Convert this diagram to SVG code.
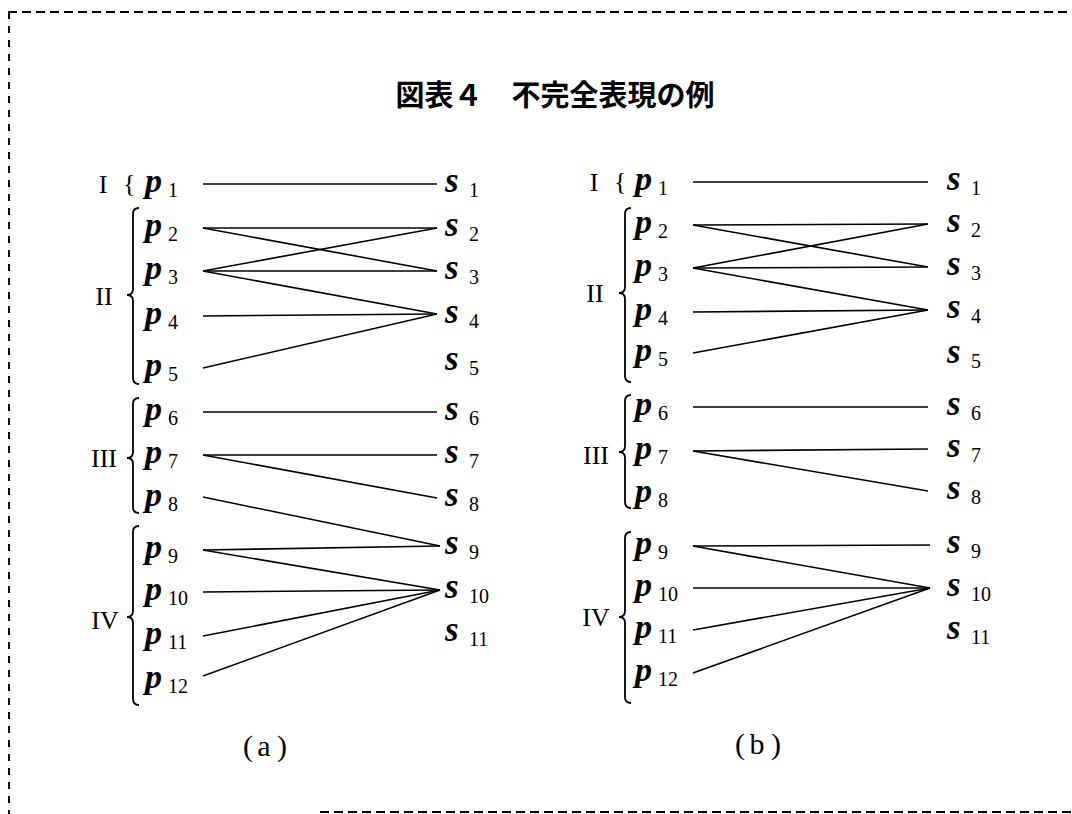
<svg xmlns="http://www.w3.org/2000/svg" width="1072" height="814" viewBox="0 0 1072 814">
<style>
.bd{fill:none;stroke:#000;stroke-width:2}
.ln{stroke:#000;stroke-width:1.6;fill:none}
.br{stroke:#000;stroke-width:1.8;fill:none}
.p{font-family:"Liberation Serif",serif;font-style:italic;font-weight:bold;font-size:34px}
.s{font-family:"Liberation Serif",serif;font-style:italic;font-weight:bold;font-size:35px}
.sub{font-family:"Liberation Serif",serif;font-size:20px}
.rn{font-family:"Liberation Serif",serif;font-size:26px;text-anchor:middle}
.cb{font-family:"Liberation Serif",serif;font-size:26px}
.title{font-family:"Noto Sans CJK JP",sans-serif;font-size:29px;font-weight:bold;text-anchor:middle}
.cap{font-family:"Liberation Serif",serif;font-size:30px;text-anchor:middle}
</style>
<rect width="1072" height="814" fill="#fff"/>
<g id="border">
<line class="bd" x1="8" y1="12" x2="1072" y2="12" stroke-dasharray="9 5"/>
<line class="bd" x1="9" y1="12" x2="9" y2="814" stroke-dasharray="7 7"/>
<line class="bd" x1="320" y1="812" x2="1072" y2="812" stroke-dasharray="9 5"/>
</g>
<text id="title" class="title" x="555" y="106">図表４　不完全表現の例</text>

<g id="connectors-a">
<line class="ln" x1="203" y1="184" x2="437" y2="184"/>
<line class="ln" x1="203" y1="228" x2="437" y2="228"/>
<line class="ln" x1="203" y1="228" x2="437" y2="271"/>
<line class="ln" x1="203" y1="271" x2="437" y2="228"/>
<line class="ln" x1="203" y1="271" x2="437" y2="271"/>
<line class="ln" x1="203" y1="271" x2="437" y2="314"/>
<line class="ln" x1="203" y1="316" x2="437" y2="314"/>
<line class="ln" x1="203" y1="368" x2="437" y2="314"/>
<line class="ln" x1="203" y1="412" x2="437" y2="412"/>
<line class="ln" x1="203" y1="455" x2="437" y2="455"/>
<line class="ln" x1="203" y1="455" x2="437" y2="498"/>
<line class="ln" x1="203" y1="497" x2="440" y2="546"/>
<line class="ln" x1="203" y1="550" x2="440" y2="546"/>
<line class="ln" x1="203" y1="550" x2="440" y2="590"/>
<line class="ln" x1="203" y1="592" x2="440" y2="590"/>
<line class="ln" x1="203" y1="636" x2="440" y2="590"/>
<line class="ln" x1="203" y1="676" x2="440" y2="590"/>
</g>
<g id="connectors-b">
<line class="ln" x1="693" y1="182" x2="928" y2="182"/>
<line class="ln" x1="693" y1="225" x2="928" y2="224"/>
<line class="ln" x1="693" y1="225" x2="928" y2="267"/>
<line class="ln" x1="693" y1="268" x2="928" y2="224"/>
<line class="ln" x1="693" y1="268" x2="928" y2="267"/>
<line class="ln" x1="693" y1="268" x2="928" y2="310"/>
<line class="ln" x1="693" y1="312" x2="928" y2="310"/>
<line class="ln" x1="693" y1="353" x2="928" y2="310"/>
<line class="ln" x1="693" y1="407" x2="928" y2="407"/>
<line class="ln" x1="693" y1="451" x2="928" y2="449"/>
<line class="ln" x1="693" y1="451" x2="928" y2="491"/>
<line class="ln" x1="693" y1="546" x2="930" y2="545"/>
<line class="ln" x1="693" y1="546" x2="930" y2="588"/>
<line class="ln" x1="693" y1="588" x2="930" y2="588"/>
<line class="ln" x1="693" y1="630" x2="930" y2="588"/>
<line class="ln" x1="693" y1="673" x2="930" y2="588"/>
</g>

<!-- Panel (a) groups -->
<g id="a-group-I"><text class="rn" x="103" y="193">I</text><text class="cb" x="123" y="192">{</text></g>
<g id="a-group-II"><text class="rn" x="104" y="305">II</text><path class="br" d="M139,208 Q133,208 133,214 L133,289 Q133,295 127,295 Q133,295 133,301 L133,378 Q133,384 139,384"/></g>
<g id="a-group-III"><text class="rn" x="104" y="467">III</text><path class="br" d="M139,398 Q133,398 133,404 L133,452 Q133,458 127,458 Q133,458 133,464 L133,507 Q133,513 139,513"/></g>
<g id="a-group-IV"><text class="rn" x="105" y="629">IV</text><path class="br" d="M139,526 Q133,526 133,532 L133,611 Q133,617 127,617 Q133,617 133,623 L133,699 Q133,705 139,705"/></g>

<g id="a-p1"><text class="p" x="145" y="192">p</text><text class="sub" x="168" y="197">1</text></g>
<g id="a-p2"><text class="p" x="145" y="236">p</text><text class="sub" x="168" y="241">2</text></g>
<g id="a-p3"><text class="p" x="145" y="279">p</text><text class="sub" x="168" y="284">3</text></g>
<g id="a-p4"><text class="p" x="145" y="324">p</text><text class="sub" x="168" y="329">4</text></g>
<g id="a-p5"><text class="p" x="145" y="376">p</text><text class="sub" x="168" y="381">5</text></g>
<g id="a-p6"><text class="p" x="145" y="420">p</text><text class="sub" x="168" y="425">6</text></g>
<g id="a-p7"><text class="p" x="145" y="463">p</text><text class="sub" x="168" y="468">7</text></g>
<g id="a-p8"><text class="p" x="145" y="506">p</text><text class="sub" x="168" y="511">8</text></g>
<g id="a-p9"><text class="p" x="145" y="558">p</text><text class="sub" x="168" y="563">9</text></g>
<g id="a-p10"><text class="p" x="145" y="600">p</text><text class="sub" x="168" y="605">10</text></g>
<g id="a-p11"><text class="p" x="145" y="644">p</text><text class="sub" x="168" y="649">11</text></g>
<g id="a-p12"><text class="p" x="145" y="688">p</text><text class="sub" x="168" y="693">12</text></g>

<g id="a-s1"><text class="s" x="445" y="192">s</text><text class="sub" x="469" y="197">1</text></g>
<g id="a-s2"><text class="s" x="445" y="236">s</text><text class="sub" x="469" y="241">2</text></g>
<g id="a-s3"><text class="s" x="445" y="279">s</text><text class="sub" x="469" y="284">3</text></g>
<g id="a-s4"><text class="s" x="445" y="323">s</text><text class="sub" x="469" y="328">4</text></g>
<g id="a-s5"><text class="s" x="445" y="370">s</text><text class="sub" x="469" y="375">5</text></g>
<g id="a-s6"><text class="s" x="445" y="420">s</text><text class="sub" x="469" y="425">6</text></g>
<g id="a-s7"><text class="s" x="445" y="463">s</text><text class="sub" x="469" y="468">7</text></g>
<g id="a-s8"><text class="s" x="445" y="506">s</text><text class="sub" x="469" y="511">8</text></g>
<g id="a-s9"><text class="s" x="445" y="554">s</text><text class="sub" x="469" y="559">9</text></g>
<g id="a-s10"><text class="s" x="445" y="598">s</text><text class="sub" x="469" y="603">10</text></g>
<g id="a-s11"><text class="s" x="445" y="641">s</text><text class="sub" x="469" y="646">11</text></g>

<!-- Panel (b) groups -->
<g id="b-group-I"><text class="rn" x="594" y="191">I</text><text class="cb" x="614" y="190">{</text></g>
<g id="b-group-II"><text class="rn" x="595" y="302">II</text><path class="br" d="M631,208 Q625,208 625,214 L625,287 Q625,293 619,293 Q625,293 625,299 L625,376 Q625,382 631,382"/></g>
<g id="b-group-III"><text class="rn" x="596" y="464">III</text><path class="br" d="M631,395 Q625,395 625,401 L625,446 Q625,452 619,452 Q625,452 625,458 L625,502 Q625,508 631,508"/></g>
<g id="b-group-IV"><text class="rn" x="596" y="626">IV</text><path class="br" d="M631,532 Q625,532 625,538 L625,611 Q625,617 619,617 Q625,617 625,623 L625,697 Q625,703 631,703"/></g>

<g id="b-p1"><text class="p" x="635" y="190">p</text><text class="sub" x="658" y="195">1</text></g>
<g id="b-p2"><text class="p" x="635" y="233">p</text><text class="sub" x="658" y="238">2</text></g>
<g id="b-p3"><text class="p" x="635" y="276">p</text><text class="sub" x="658" y="281">3</text></g>
<g id="b-p4"><text class="p" x="635" y="320">p</text><text class="sub" x="658" y="325">4</text></g>
<g id="b-p5"><text class="p" x="635" y="361">p</text><text class="sub" x="658" y="366">5</text></g>
<g id="b-p6"><text class="p" x="635" y="415">p</text><text class="sub" x="658" y="420">6</text></g>
<g id="b-p7"><text class="p" x="635" y="459">p</text><text class="sub" x="658" y="464">7</text></g>
<g id="b-p8"><text class="p" x="635" y="502">p</text><text class="sub" x="658" y="507">8</text></g>
<g id="b-p9"><text class="p" x="635" y="554">p</text><text class="sub" x="658" y="559">9</text></g>
<g id="b-p10"><text class="p" x="635" y="596">p</text><text class="sub" x="658" y="601">10</text></g>
<g id="b-p11"><text class="p" x="635" y="638">p</text><text class="sub" x="658" y="643">11</text></g>
<g id="b-p12"><text class="p" x="635" y="681">p</text><text class="sub" x="658" y="686">12</text></g>

<g id="b-s1"><text class="s" x="947" y="190">s</text><text class="sub" x="971" y="195">1</text></g>
<g id="b-s2"><text class="s" x="947" y="232">s</text><text class="sub" x="971" y="237">2</text></g>
<g id="b-s3"><text class="s" x="947" y="275">s</text><text class="sub" x="971" y="280">3</text></g>
<g id="b-s4"><text class="s" x="947" y="318">s</text><text class="sub" x="971" y="323">4</text></g>
<g id="b-s5"><text class="s" x="947" y="363">s</text><text class="sub" x="971" y="368">5</text></g>
<g id="b-s6"><text class="s" x="947" y="415">s</text><text class="sub" x="971" y="420">6</text></g>
<g id="b-s7"><text class="s" x="947" y="457">s</text><text class="sub" x="971" y="462">7</text></g>
<g id="b-s8"><text class="s" x="947" y="499">s</text><text class="sub" x="971" y="504">8</text></g>
<g id="b-s9"><text class="s" x="947" y="553">s</text><text class="sub" x="971" y="558">9</text></g>
<g id="b-s10"><text class="s" x="947" y="596">s</text><text class="sub" x="971" y="601">10</text></g>
<g id="b-s11"><text class="s" x="947" y="639">s</text><text class="sub" x="971" y="644">11</text></g>

<g id="cap-a" class="cap"><text x="248" y="756">(</text><text x="264" y="756">a</text><text x="282" y="756">)</text></g>
<g id="cap-b" class="cap"><text x="740" y="754">(</text><text x="757" y="754">b</text><text x="776" y="754">)</text></g>
</svg>
